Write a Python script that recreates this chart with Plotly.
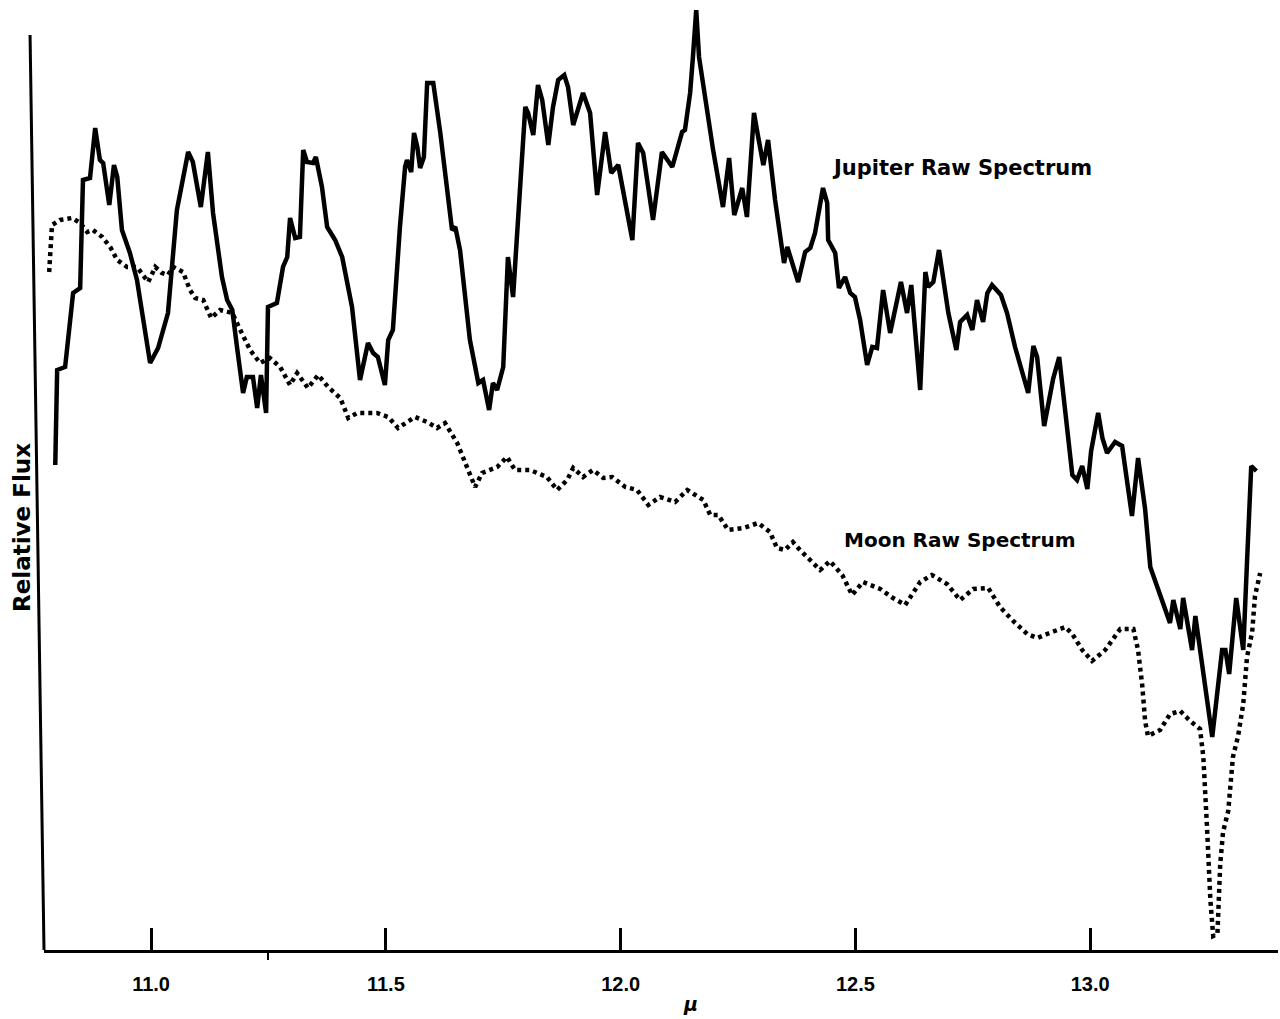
import plotly.graph_objects as go

# ---- data (wavelength in microns, relative flux in arbitrary units) ----
jupiter_wl = [10.796, 10.800, 10.817, 10.834, 10.849, 10.855, 10.870, 10.881, 10.891, 10.898,
              10.911, 10.921, 10.928, 10.938, 10.955, 10.970, 10.998, 11.015, 11.036, 11.055,
              11.079, 11.089, 11.106, 11.121, 11.132, 11.151, 11.162, 11.173, 11.183, 11.196,
              11.204, 11.217, 11.226, 11.234, 11.245, 11.249, 11.268, 11.281, 11.290, 11.296,
              11.307, 11.317, 11.324, 11.332, 11.345, 11.351, 11.364, 11.375, 11.392, 11.407,
              11.428, 11.445, 11.462, 11.473, 11.483, 11.498, 11.505, 11.515, 11.530, 11.541,
              11.545, 11.554, 11.560, 11.567, 11.573, 11.581, 11.588, 11.601, 11.616, 11.630,
              11.641, 11.648, 11.658, 11.679, 11.697, 11.707, 11.720, 11.728, 11.737, 11.750,
              11.758, 11.760, 11.771, 11.775, 11.786, 11.797, 11.803, 11.814, 11.824, 11.833,
              11.846, 11.856, 11.867, 11.880, 11.888, 11.899, 11.920, 11.935, 11.950, 11.967,
              11.980, 11.995, 12.025, 12.037, 12.048, 12.069, 12.088, 12.110, 12.131, 12.137,
              12.148, 12.154, 12.161, 12.167, 12.180, 12.197, 12.218, 12.231, 12.242, 12.259,
              12.269, 12.284, 12.293, 12.304, 12.314, 12.329, 12.348, 12.355, 12.378, 12.393,
              12.404, 12.414, 12.431, 12.440, 12.442, 12.457, 12.465, 12.478, 12.489, 12.499,
              12.510, 12.525, 12.536, 12.546, 12.559, 12.574, 12.597, 12.610, 12.619, 12.638,
              12.649, 12.655, 12.666, 12.678, 12.698, 12.715, 12.723, 12.738, 12.749, 12.759,
              12.772, 12.781, 12.791, 12.810, 12.823, 12.840, 12.868, 12.879, 12.887, 12.902,
              12.921, 12.934, 12.962, 12.972, 12.983, 12.994, 13.002, 13.017, 13.026, 13.036,
              13.053, 13.068, 13.089, 13.102, 13.117, 13.128, 13.170, 13.177, 13.192, 13.198,
              13.217, 13.224, 13.260, 13.281, 13.288, 13.296, 13.311, 13.326, 13.334, 13.343,
              13.354]
jupiter_flux = [4.85, 5.80, 5.83, 6.57, 6.62, 7.70, 7.72, 8.22, 7.90, 7.87,
                7.45, 7.85, 7.73, 7.20, 6.97, 6.70, 5.87, 6.02, 6.37, 7.40,
                7.98, 7.88, 7.43, 7.98, 7.37, 6.73, 6.50, 6.40, 6.03, 5.57,
                5.73, 5.73, 5.42, 5.75, 5.37, 6.43, 6.47, 6.83, 6.93, 7.32,
                7.12, 7.13, 8.00, 7.88, 7.87, 7.93, 7.63, 7.23, 7.10, 6.93,
                6.43, 5.70, 6.07, 5.97, 5.93, 5.65, 6.10, 6.20, 7.23, 7.83,
                7.90, 7.78, 8.17, 8.03, 7.82, 7.93, 8.67, 8.67, 8.17, 7.60,
                7.20, 7.23, 7.00, 6.10, 5.67, 5.70, 5.40, 5.67, 5.60, 5.83,
                6.73, 6.93, 6.53, 6.87, 7.63, 8.43, 8.37, 8.15, 8.65, 8.50,
                8.05, 8.43, 8.70, 8.75, 8.63, 8.25, 8.57, 8.37, 7.55, 8.18,
                7.77, 7.85, 7.10, 8.07, 7.97, 7.30, 7.98, 7.83, 8.18, 8.20,
                8.57, 8.93, 9.40, 8.93, 8.50, 8.00, 7.43, 7.92, 7.35, 7.62,
                7.33, 8.37, 8.13, 7.85, 8.10, 7.50, 6.87, 7.03, 6.68, 6.98,
                7.02, 7.17, 7.62, 7.47, 7.10, 6.97, 6.62, 6.73, 6.57, 6.53,
                6.30, 5.85, 6.03, 6.02, 6.60, 6.17, 6.68, 6.37, 6.65, 5.60,
                6.78, 6.63, 6.68, 7.00, 6.37, 6.00, 6.28, 6.35, 6.20, 6.50,
                6.28, 6.57, 6.65, 6.55, 6.37, 6.03, 5.57, 6.04, 5.93, 5.24,
                5.71, 5.93, 4.75, 4.70, 4.84, 4.61, 4.99, 5.37, 5.12, 4.97,
                5.08, 5.04, 4.34, 4.92, 4.41, 3.83, 3.27, 3.50, 3.21, 3.52,
                3.00, 3.34, 2.13, 3.00, 3.00, 2.76, 3.52, 3.00, 3.88, 4.84,
                4.79]

moon_wl = [10.783, 10.785, 10.789, 10.806, 10.832, 10.849, 10.864, 10.876, 10.896, 10.913,
           10.928, 10.949, 10.970, 10.994, 11.009, 11.023, 11.036, 11.047, 11.068, 11.083,
           11.094, 11.111, 11.128, 11.147, 11.173, 11.190, 11.211, 11.232, 11.253, 11.275,
           11.296, 11.311, 11.334, 11.356, 11.377, 11.403, 11.420, 11.439, 11.481, 11.505,
           11.526, 11.562, 11.588, 11.609, 11.626, 11.652, 11.673, 11.690, 11.705, 11.737,
           11.758, 11.775, 11.807, 11.843, 11.865, 11.886, 11.899, 11.920, 11.941, 11.963,
           11.982, 12.010, 12.035, 12.059, 12.084, 12.116, 12.142, 12.176, 12.191, 12.208,
           12.229, 12.261, 12.293, 12.318, 12.333, 12.350, 12.367, 12.382, 12.425, 12.446,
           12.472, 12.493, 12.516, 12.553, 12.580, 12.606, 12.638, 12.663, 12.695, 12.723,
           12.751, 12.783, 12.808, 12.836, 12.866, 12.887, 12.908, 12.947, 12.962, 12.983,
           13.004, 13.032, 13.064, 13.092, 13.102, 13.111, 13.117, 13.123, 13.149, 13.170,
           13.192, 13.213, 13.234, 13.241, 13.249, 13.256, 13.262, 13.271, 13.277, 13.283,
           13.294, 13.304, 13.315, 13.326, 13.334, 13.345, 13.351, 13.362]
moon_flux = [6.78, 7.00, 7.25, 7.30, 7.32, 7.27, 7.18, 7.20, 7.13, 7.03,
             6.90, 6.83, 6.83, 6.68, 6.83, 6.77, 6.75, 6.83, 6.78, 6.60,
             6.52, 6.50, 6.32, 6.40, 6.37, 6.20, 6.00, 5.87, 5.92, 5.83,
             5.65, 5.77, 5.62, 5.75, 5.63, 5.52, 5.32, 5.37, 5.37, 5.33,
             5.22, 5.33, 5.28, 5.22, 5.27, 5.07, 4.83, 4.63, 4.77, 4.83,
             4.93, 4.80, 4.80, 4.73, 4.60, 4.70, 4.82, 4.73, 4.80, 4.72,
             4.73, 4.63, 4.60, 4.45, 4.53, 4.48, 4.60, 4.50, 4.35, 4.35,
             4.20, 4.22, 4.27, 4.18, 4.02, 4.00, 4.08, 4.00, 3.80, 3.89,
             3.75, 3.55, 3.68, 3.61, 3.52, 3.45, 3.68, 3.75, 3.66, 3.50,
             3.61, 3.62, 3.43, 3.29, 3.16, 3.12, 3.16, 3.23, 3.16, 3.00,
             2.89, 3.00, 3.21, 3.21, 3.00, 2.64, 2.29, 2.14, 2.20, 2.36,
             2.39, 2.29, 2.21, 1.93, 1.21, 0.50, 0.14, 0.16, 0.86, 1.18,
             1.39, 1.93, 2.14, 2.46, 2.93, 3.18, 3.54, 3.77]

tick_vals = [11.0, 11.5, 12.0, 12.5, 13.0]
tick_text = ["11.0", "11.5", "12.0", "12.5", "13.0"]

X_RANGE = [10.772, 13.400]
Y_RANGE = [0, 9.4]

fig = go.Figure()
fig.add_trace(go.Scatter(x=jupiter_wl, y=jupiter_flux, mode="lines",
                         line=dict(color="black", width=4.5),
                         name="Jupiter Raw Spectrum", showlegend=False, hoverinfo="skip"))
fig.add_trace(go.Scatter(x=moon_wl, y=moon_flux, mode="lines",
                         line=dict(color="black", width=4.5, dash="4px,4px"),
                         name="Moon Raw Spectrum", showlegend=False, hoverinfo="skip"))

# left axis line (slightly slanted as in the scan)
fig.add_shape(type="line", xref="paper", yref="y", x0=0, y0=0, x1=-0.0113, y1=9.15,
              line=dict(color="black", width=3))

label_font = dict(family="DejaVu Sans", size=21, color="black", weight="bold")
fig.add_annotation(x=12.727, y=7.82, text="Jupiter Raw Spectrum", showarrow=False,
                   font=label_font, xanchor="center", yanchor="middle")
fig.add_annotation(x=12.722, y=4.10, text="Moon Raw Spectrum", showarrow=False,
                   font=dict(family="DejaVu Sans", size=20, color="black", weight="bold"),
                   xanchor="center", yanchor="middle")
fig.add_annotation(xref="paper", yref="paper", x=-0.0178, y=0.449, text="Relative Flux",
                   textangle=-90, showarrow=False,
                   font=dict(family="DejaVu Sans", size=23, color="black", weight="bold"),
                   xanchor="center", yanchor="middle")
fig.add_annotation(x=12.148, yref="paper", y=-0.057, text="μ", showarrow=False,
                   font=dict(family="DejaVu Sans", size=19, color="black", style="italic",
                             weight="bold"),
                   xanchor="center", yanchor="middle")

fig.update_layout(
    width=1280, height=1019, autosize=False,
    margin=dict(l=44, r=2, t=10, b=69, pad=0),
    paper_bgcolor="white", plot_bgcolor="white",
    showlegend=False,
    xaxis=dict(range=X_RANGE, tickmode="array", tickvals=tick_vals, ticktext=tick_text,
               ticks="inside", ticklen=22, tickwidth=3, tickcolor="black",
               showline=True, linewidth=3, linecolor="black", mirror=False,
               showgrid=False, zeroline=False, ticklabelstandoff=14,
               tickfont=dict(family="Liberation Sans", size=20, color="black", weight="bold"),
               minor=dict(tickvals=[11.25], ticks="outside", ticklen=7, tickwidth=2,
                          tickcolor="black", showgrid=False)),
    yaxis=dict(range=Y_RANGE, showticklabels=False, ticks="", showgrid=False,
               zeroline=False, showline=False),
)

fig.write_html("out.html")
